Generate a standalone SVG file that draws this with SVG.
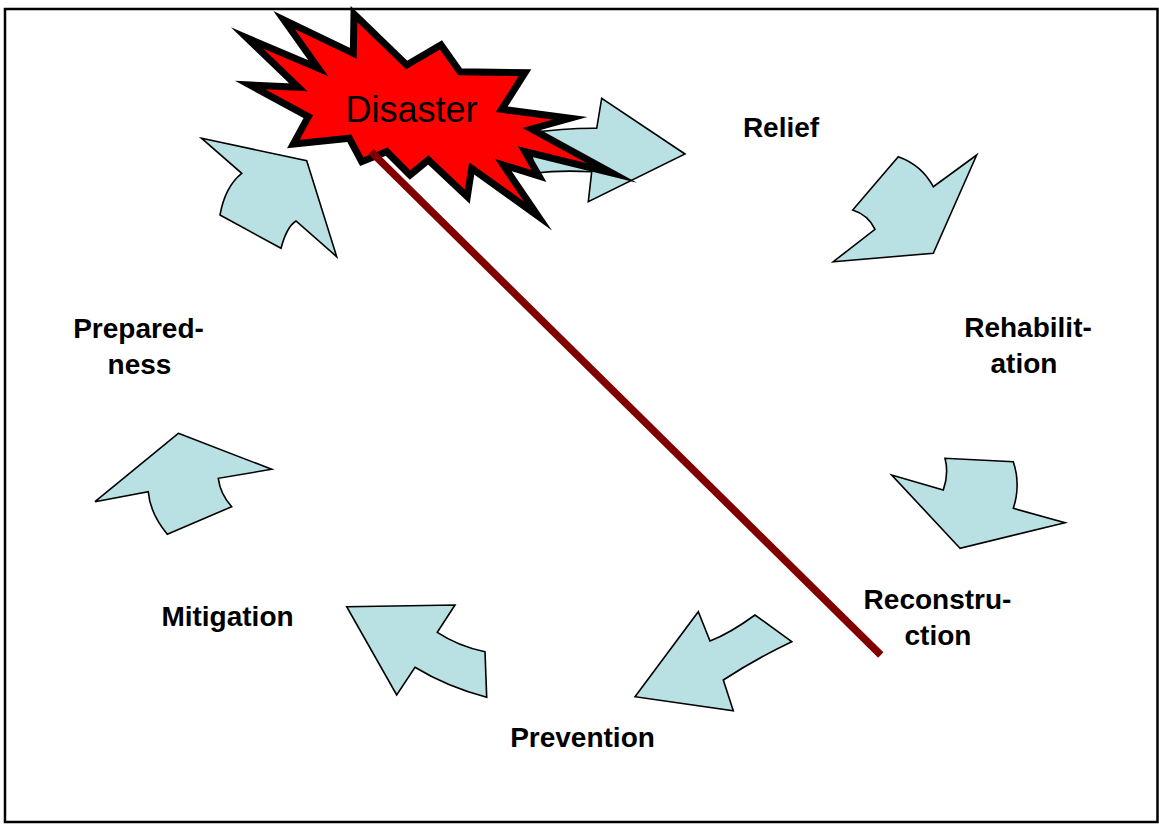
<svg xmlns="http://www.w3.org/2000/svg" width="1159" height="825" viewBox="0 0 1159 825">
<style>
.arrow{fill:#B9E0E3;stroke:#000;stroke-width:1.6;stroke-linejoin:miter}
.lbl{font-family:"Liberation Sans",Arial,sans-serif;font-weight:bold;font-size:28px;fill:#000;text-anchor:middle}
</style>
<rect x="0" y="0" width="1159" height="825" fill="#fff"/>
<rect x="5" y="9" width="1152.5" height="813" fill="#fff" stroke="#000" stroke-width="2.5"/>
<g id="connectors">
<path id="arrow-relief" class="arrow" d="M528,133 Q565,128 596.7,128.3 L601.7,98.3 L685,154 L588.3,201.7 L591.7,171.7 Q560,170 535,173 Z"/>
<path id="arrow-rehab" class="arrow" d="M898.3,156.7 Q921.7,165 933.3,186.7 L976.7,155 L933.3,253.3 L833.3,261.7 L875,229.3 Q868.3,215 852.7,210 Z"/>
<path id="arrow-recon" class="arrow" d="M960,548.3 L891.7,475 L943.3,490 Q949,474 945,458.3 L1013.3,461.7 Q1021,485 1013.3,508.3 L1065,522.7 Z"/>
<path id="arrow-prevention" class="arrow" d="M635,696.7 L698.3,611.7 L710,641 Q730,633.3 755,615 L791.7,641.7 Q756.7,658.3 723.3,680 L733.3,710.7 Z"/>
<path id="arrow-mitigation" class="arrow" d="M346.7,606.7 L455,605 L437.3,632.3 Q458,646 485,651.7 L486.7,697.3 Q446.7,686.7 415,667.3 L396.7,695 Z"/>
<path id="arrow-prepared" class="arrow" d="M178.3,433.3 L271.7,469.3 L218.3,478.3 Q220,493.3 231.7,506.7 L167.3,534.3 Q150,513.3 148.3,491.7 L95,501.7 Z"/>
<path id="arrow-disaster" class="arrow" d="M201.7,138.3 L306.7,160.7 L336.7,256.7 L296,221 Q286.7,226.7 281,248.3 L220,215 Q225,186.7 241.7,173.3 Z"/>
</g>
<g id="node-disaster">
<path d="M354,14 L406.7,65 L441,45 L460,71.7 L525,72.7 L501.7,109.3 L570,118.3 L531.7,129 L612,173 L525,151.7 L539,176 L503.3,165 L538,216 L471.7,168.3 L467.3,196.7 L428.3,160 L410,175 L386.7,151.7 L361.7,161.7 L349.3,138.3 L293.3,144 L308.3,116.7 L250,85 L298.3,87.3 L247,38 L318.3,68.3 L284,20 L353.3,53.3 Z" fill="#FF0000" stroke="#000" stroke-width="7" stroke-linejoin="miter" stroke-miterlimit="10"/>
<text x="411.5" y="122" font-family="'Liberation Sans',Arial,sans-serif" font-size="36" text-anchor="middle" fill="#000">Disaster</text>
</g>
<g id="timeline">
<line x1="371" y1="151.7" x2="880.8" y2="655" stroke="#800000" stroke-width="7.5"/>
</g>
<g id="node-relief"><text class="lbl" x="781" y="137">Relief</text></g>
<g id="node-rehabilitation"><text class="lbl" x="1028" y="337"><tspan x="1028" y="337">Rehabilit-</tspan><tspan x="1024" y="372.5">ation</tspan></text></g>
<g id="node-reconstruction"><text class="lbl" x="937.5" y="609"><tspan x="937.5" y="609">Reconstru-</tspan><tspan x="938" y="645">ction</tspan></text></g>
<g id="node-prevention"><text class="lbl" x="582.5" y="746.5">Prevention</text></g>
<g id="node-mitigation"><text class="lbl" x="227.5" y="626">Mitigation</text></g>
<g id="node-preparedness"><text class="lbl" x="138.5" y="338"><tspan x="138.5" y="338">Prepared-</tspan><tspan x="139.5" y="373.5">ness</tspan></text></g>
</svg>
